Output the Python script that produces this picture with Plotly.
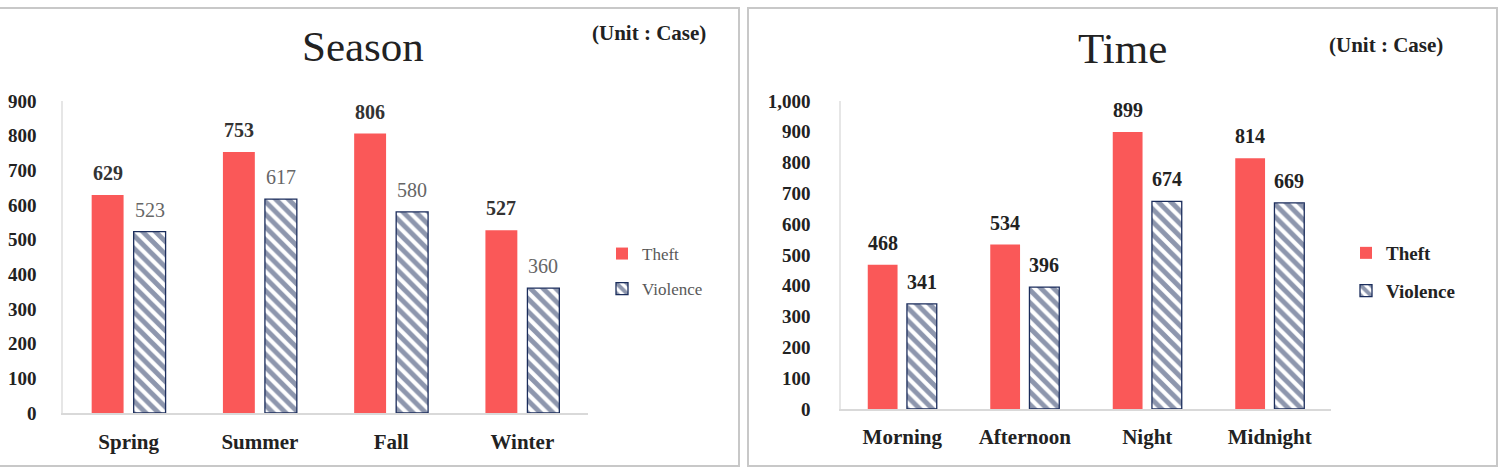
import plotly.graph_objects as go

# ---------------- data ----------------
season_categories = ["Spring", "Summer", "Fall", "Winter"]
season_theft = [629, 753, 806, 527]
season_violence = [523, 617, 580, 360]

time_categories = ["Morning", "Afternoon", "Night", "Midnight"]
time_theft = [468, 534, 899, 814]
time_violence = [341, 396, 674, 669]

season_ticks = list(range(0, 901, 100))
time_ticks = list(range(0, 1001, 100))

# ---------------- style ----------------
W, H = 1499, 468
SERIF = "Liberation Serif, Times New Roman, serif"
RED = "#FA5858"
NAVY = "#1B2D5C"
BARGAP = 0.36
BARGROUPGAP = 0.24


def px_x(p):
    return p / W


def px_y(p):
    return 1 - p / H


fig = go.Figure()

violence_pattern = dict(shape="\\", fgcolor=NAVY, bgcolor="white", size=9, solidity=0.55)

# Season chart
fig.add_trace(go.Bar(x=season_categories, y=season_theft, name="Theft",
                     marker=dict(color=RED, line=dict(width=0)),
                     xaxis="x", yaxis="y", legend="legend", legendgroup="st"))
fig.add_trace(go.Bar(x=season_categories, y=season_violence, name="Violence",
                     marker=dict(color="white", pattern=violence_pattern,
                                 line=dict(color=NAVY, width=1.3)),
                     xaxis="x", yaxis="y", legend="legend", legendgroup="sv"))
# Time chart
fig.add_trace(go.Bar(x=time_categories, y=time_theft, name="Theft",
                     marker=dict(color=RED, line=dict(width=0)),
                     xaxis="x2", yaxis="y2", legend="legend2", legendgroup="tt"))
fig.add_trace(go.Bar(x=time_categories, y=time_violence, name="Violence",
                     marker=dict(color="white", pattern=violence_pattern,
                                 line=dict(color=NAVY, width=1.3)),
                     xaxis="x2", yaxis="y2", legend="legend2", legendgroup="tv"))

# value labels via annotations
off = (1 - BARGAP) / 4
annotations = []
for i, (t, v) in enumerate(zip(season_theft, season_violence)):
    annotations.append(dict(x=i - off, y=t, xref="x", yref="y", text=str(t), showarrow=False,
                            yanchor="bottom", yshift=9,
                            font=dict(family=SERIF, size=20, color="#333333", weight="bold")))
    annotations.append(dict(x=i + off, y=v, xref="x", yref="y", text=str(v), showarrow=False,
                            yanchor="bottom", yshift=9,
                            font=dict(family=SERIF, size=20, color="#666666")))
for i, (t, v) in enumerate(zip(time_theft, time_violence)):
    annotations.append(dict(x=i - off, y=t, xref="x2", yref="y2", text=str(t), showarrow=False,
                            yanchor="bottom", yshift=9,
                            font=dict(family=SERIF, size=20, color="#222222", weight="bold")))
    annotations.append(dict(x=i + off, y=v, xref="x2", yref="y2", text=str(v), showarrow=False,
                            yanchor="bottom", yshift=9,
                            font=dict(family=SERIF, size=20, color="#222222", weight="bold")))

# titles and unit notes
annotations += [
    dict(x=px_x(363), y=px_y(47), xref="paper", yref="paper", text="Season", showarrow=False,
         xanchor="center", yanchor="middle", font=dict(family=SERIF, size=43, color="#222222")),
    dict(x=px_x(1122), y=px_y(49), xref="paper", yref="paper", text="Time", showarrow=False,
         xanchor="center", yanchor="middle", font=dict(family=SERIF, size=43, color="#222222")),
    dict(x=px_x(649), y=px_y(33), xref="paper", yref="paper", text="(Unit : Case)", showarrow=False,
         xanchor="center", yanchor="middle",
         font=dict(family=SERIF, size=21, color="#222222", weight="bold")),
    dict(x=px_x(1386), y=px_y(45), xref="paper", yref="paper", text="(Unit : Case)", showarrow=False,
         xanchor="center", yanchor="middle",
         font=dict(family=SERIF, size=21, color="#222222", weight="bold")),
]

# panel borders
shapes = [
    dict(type="rect", xref="paper", yref="paper", x0=px_x(-2), x1=px_x(739), y0=px_y(466), y1=px_y(8),
         line=dict(color="#C8C8C8", width=2), fillcolor="rgba(0,0,0,0)", layer="below"),
    dict(type="rect", xref="paper", yref="paper", x0=px_x(748), x1=px_x(1497), y0=px_y(466), y1=px_y(8),
         line=dict(color="#C8C8C8", width=2), fillcolor="rgba(0,0,0,0)", layer="below"),
]

tickfont = dict(family=SERIF, size=19, color="#222222", weight="bold")
catfont = dict(family=SERIF, size=21, color="#222222", weight="bold")

fig.update_layout(
    width=W, height=H, autosize=False,
    margin=dict(l=0, r=0, t=0, b=0, pad=0, autoexpand=False),
    paper_bgcolor="white", plot_bgcolor="white",
    barmode="group", bargap=BARGAP, bargroupgap=BARGROUPGAP,
    annotations=annotations, shapes=shapes,
    xaxis=dict(domain=[px_x(63), px_x(588)], anchor="y", type="category", automargin=False,
               showline=True, linecolor="#D9D9D9", linewidth=1.5, ticks="", showgrid=False,
               tickfont=catfont, ticklabelstandoff=9, fixedrange=True),
    yaxis=dict(domain=[px_y(413), px_y(101)], anchor="x", range=[0, 900], automargin=False,
               tickvals=season_ticks, showline=True, linecolor="#E6E6E6", linewidth=1.5,
               showgrid=False, zeroline=False, ticks="", tickfont=tickfont,
               ticklabelstandoff=21, fixedrange=True),
    xaxis2=dict(domain=[px_x(841), px_x(1331)], anchor="y2", type="category", automargin=False,
                showline=True, linecolor="#D9D9D9", linewidth=1.5, ticks="", showgrid=False,
                tickfont=catfont, ticklabelstandoff=8, fixedrange=True),
    yaxis2=dict(domain=[px_y(409), px_y(101)], anchor="x2", range=[0, 1000], automargin=False,
                tickvals=time_ticks, tickformat=",d", showline=True, linecolor="#E6E6E6",
                linewidth=1.5, showgrid=False, zeroline=False, ticks="", tickfont=tickfont,
                ticklabelstandoff=25, fixedrange=True),
    legend=dict(x=px_x(602), y=px_y(236), xanchor="left", yanchor="top",
                font=dict(family=SERIF, size=17, color="#595959"),
                tracegroupgap=10, bgcolor="rgba(0,0,0,0)", itemwidth=30),
    legend2=dict(x=px_x(1346), y=px_y(234), xanchor="left", yanchor="top",
                 font=dict(family=SERIF, size=19, color="#222222", weight="bold"),
                 tracegroupgap=10, bgcolor="rgba(0,0,0,0)", itemwidth=30),
    showlegend=True,
)

fig.write_html("out.html")
